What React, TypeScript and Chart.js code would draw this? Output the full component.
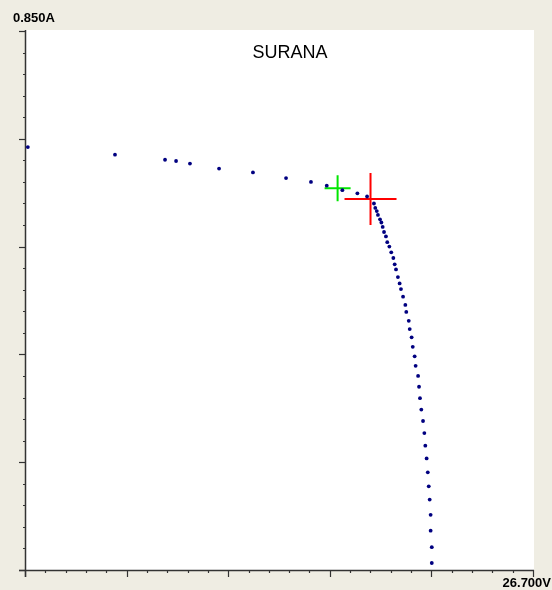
import React, { useEffect, useRef } from "react";
import { Chart, registerables } from "chart.js";

Chart.register(...registerables);

const chartTitle = "SURANA";
const yAxisLabel = "0.850A";
const xAxisLabel = "26.700V";
const xMax = 26.7;
const yMax = 0.85;
const xMajorTicks = [0, 5.34, 10.68, 16.02, 21.36, 26.7];
const yMajorTicks = [0, 0.17, 0.34, 0.51, 0.68, 0.85];
const minorPerMajor = 5;

const voltage = [
  0.15, 4.73, 7.36, 7.94, 8.67, 10.2, 11.98, 13.72, 15.03, 15.86, 16.68, 17.47, 17.98,
  18.34, 18.41, 18.49, 18.55, 18.66, 18.73, 18.8, 18.87, 18.97, 19.04, 19.15, 19.25,
  19.36, 19.43, 19.5, 19.6, 19.69, 19.76, 19.87, 19.99, 20.04, 20.17, 20.22, 20.32,
  20.38, 20.48, 20.53, 20.66, 20.71, 20.76, 20.83, 20.92, 20.99, 21.04, 21.11, 21.17,
  21.22, 21.27, 21.32, 21.32, 21.38, 21.38,
];
const current = [
  0.667, 0.655, 0.647, 0.645, 0.641, 0.633, 0.627, 0.618, 0.612, 0.606, 0.599, 0.594, 0.589,
  0.578, 0.571, 0.566, 0.56, 0.553, 0.548, 0.541, 0.533, 0.526, 0.517, 0.51, 0.501,
  0.492, 0.482, 0.474, 0.462, 0.452, 0.443, 0.431, 0.418, 0.407, 0.393, 0.38, 0.367,
  0.352, 0.337, 0.322, 0.306, 0.289, 0.271, 0.253, 0.235, 0.216, 0.196, 0.176, 0.154,
  0.132, 0.111, 0.087, 0.062, 0.036, 0.011,
];
const mppVoltage = [18.16];
const mppCurrent = [0.585];
const markVoltage = [16.43];
const markCurrent = [0.602];

const BG = "#EFEDE3";
const AXIS = "#333333";

const framePlugin = {
  id: "frame",
  beforeDraw(chart: any) {
    const { ctx, chartArea: a } = chart;
    ctx.save();
    ctx.fillStyle = BG;
    ctx.fillRect(0, 0, chart.width, chart.height);
    ctx.fillStyle = "#FFFFFF";
    ctx.fillRect(a.left, a.top - 1, a.right - a.left + 1, a.bottom - a.top + 1);
    ctx.restore();
  },
  beforeDatasetsDraw(chart: any) {
    const { ctx, chartArea: a, scales } = chart;
    const xs = scales.x;
    const ys = scales.y;
    ctx.save();
    ctx.strokeStyle = AXIS;
    ctx.lineWidth = 1.5;
    // y axis line
    ctx.beginPath();
    ctx.moveTo(a.left + 0.5, a.top - 1);
    ctx.lineTo(a.left + 0.5, a.bottom + 7);
    ctx.stroke();
    // x axis line
    ctx.beginPath();
    ctx.moveTo(a.left - 6, a.bottom + 0.5);
    ctx.lineTo(a.right + 1, a.bottom + 0.5);
    ctx.stroke();
    ctx.lineWidth = 1.2;
    // y ticks
    for (let i = 0; i < yMajorTicks.length; i++) {
      const py = Math.round(ys.getPixelForValue(yMajorTicks[i])) + 0.5;
      ctx.beginPath();
      ctx.moveTo(a.left - 6, py);
      ctx.lineTo(a.left, py);
      ctx.stroke();
      if (i < yMajorTicks.length - 1) {
        const step = (yMajorTicks[i + 1] - yMajorTicks[i]) / minorPerMajor;
        for (let k = 1; k < minorPerMajor; k++) {
          const my = Math.round(ys.getPixelForValue(yMajorTicks[i] + step * k)) + 0.5;
          ctx.beginPath();
          ctx.moveTo(a.left - 2, my);
          ctx.lineTo(a.left, my);
          ctx.stroke();
        }
      }
    }
    // x ticks
    for (let i = 0; i < xMajorTicks.length; i++) {
      const px = Math.round(xs.getPixelForValue(xMajorTicks[i])) + 0.5;
      ctx.beginPath();
      ctx.moveTo(px, a.bottom);
      ctx.lineTo(px, a.bottom + 7);
      ctx.stroke();
      if (i < xMajorTicks.length - 1) {
        const step = (xMajorTicks[i + 1] - xMajorTicks[i]) / minorPerMajor;
        for (let k = 1; k < minorPerMajor; k++) {
          const mx = Math.round(xs.getPixelForValue(xMajorTicks[i] + step * k)) + 0.5;
          ctx.beginPath();
          ctx.moveTo(mx, a.bottom);
          ctx.lineTo(mx, a.bottom + 3);
          ctx.stroke();
        }
      }
    }
    // labels
    ctx.fillStyle = "#000000";
    ctx.font = "bold 13px 'Liberation Sans', Arial, sans-serif";
    ctx.textBaseline = "alphabetic";
    ctx.textAlign = "left";
    ctx.fillText(yAxisLabel, a.left - 12, a.top - 9);
    ctx.textAlign = "right";
    ctx.fillText(xAxisLabel, chart.width - 1, a.bottom + 17);
    // title
    ctx.font = "18px 'Liberation Sans', Arial, sans-serif";
    ctx.textAlign = "center";
    ctx.fillText(chartTitle, (a.left + a.right) / 2 + 11, a.top + 27);
    ctx.restore();
  },
};

export default function App() {
  const ref = useRef<HTMLCanvasElement>(null);
  useEffect(() => {
    document.body.style.margin = "0";
    const chart = new Chart(ref.current as HTMLCanvasElement, {
      type: "scatter",
      data: {
        datasets: [
          {
            label: "I-V",
            data: voltage.map((v, i) => ({ x: v, y: current[i] })),
            pointStyle: "circle",
            pointRadius: 1.9,
            backgroundColor: "#000080",
            borderColor: "#000080",
            borderWidth: 0,
            showLine: false,
            clip: false,
          } as any,
          {
            label: "MPP",
            data: mppVoltage.map((v, i) => ({ x: v, y: mppCurrent[i] })),
            pointStyle: "cross",
            pointRadius: 26,
            borderColor: "#FF0000",
            backgroundColor: "#FF0000",
            borderWidth: 2,
            showLine: false,
            clip: false,
          } as any,
          {
            label: "Mark",
            data: markVoltage.map((v, i) => ({ x: v, y: markCurrent[i] })),
            pointStyle: "cross",
            pointRadius: 13,
            borderColor: "#00E600",
            backgroundColor: "#00E600",
            borderWidth: 2,
            showLine: false,
            clip: false,
          } as any,
        ],
      },
      options: {
        animation: false,
        responsive: false,
        events: [],
        layout: { autoPadding: false, padding: { left: 25, right: 19, top: 31, bottom: 20 } },
        plugins: { legend: { display: false }, tooltip: { enabled: false }, title: { display: false } },
        scales: {
          x: { type: "linear", min: 0, max: xMax, display: false },
          y: { type: "linear", min: 0, max: yMax, display: false },
        },
      },
      plugins: [framePlugin],
    });
    return () => chart.destroy();
  }, []);
  return (
    <div style={{ position: "fixed", left: 0, top: 0, width: 552, height: 590 }}>
      <canvas ref={ref} width={552} height={590} style={{ display: "block", width: 552, height: 590 }} />
    </div>
  );
}
